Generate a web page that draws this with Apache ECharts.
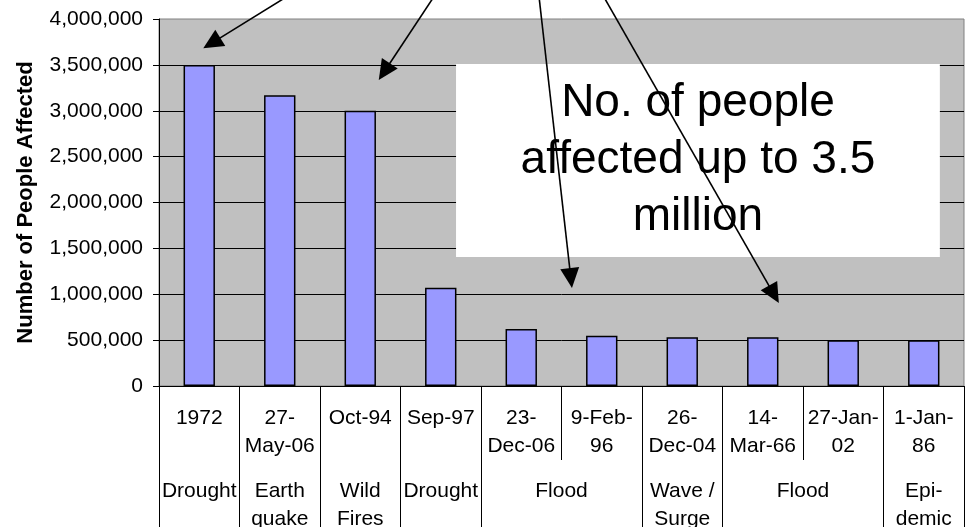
<!DOCTYPE html>
<html>
<head>
<meta charset="utf-8">
<script src="https://cdn.jsdelivr.net/npm/echarts@6/dist/echarts.min.js"></script>
<style>
  html, body { margin: 0; padding: 0; background: #ffffff; }
  #chart { width: 967px; height: 527px; }
</style>
</head>
<body>
<div id="chart"></div>
<script>
// Event dates (first row of the category axis)
const dates = ['1972', '27-\nMay-06', 'Oct-94', 'Sep-97', '23-\nDec-06', '9-Feb-\n96',
               '26-\nDec-04', '14-\nMar-66', '27-Jan-\n02', '1-Jan-\n86'];
// Number of people affected per event
const affected = [3500000, 3170000, 3000000, 1070000, 620000, 548000, 530000, 530000, 500000, 500000];
// Disaster types (second row); each spans a number of consecutive events
const groupNames = ['Drought', 'Earth\nquake', 'Wild\nFires', 'Drought', 'Flood', 'Wave /\nSurge', 'Flood', 'Epi-\ndemic'];
const groupSpans = [1, 1, 1, 1, 2, 1, 2, 1];
// Value axis ticks
const yMin = 0, yMax = 4000000, yStep = 500000;
// Callout text
const noteLines = ['No. of people', 'affected up to 3.5', 'million'];

// Callout geometry, expressed in axis units (event position 0..n, people)
const calloutLayout = {
  box: [[3.69, 3510000], [9.70, 1405000]],
  arrows: [
    { from: [1.60, 4250000], to: [0.55, 3680000] },
    { from: [3.42, 4250000], to: [2.73, 3335000] },
    { from: [4.72, 4250000], to: [5.13, 1068000] },
    { from: [5.52, 4250000], to: [7.70, 905000] }
  ]
};

const FONT = '"Liberation Sans", Arial, sans-serif';

// group boundaries and centres along the 0..n position scale
const bounds = [0];
groupSpans.forEach(s => bounds.push(bounds[bounds.length - 1] + s));
const centres = groupSpans.map((s, i) => bounds[i] + s / 2);

const chart = echarts.init(document.getElementById('chart'), null, { renderer: 'canvas' });

chart.setOption({
  animation: false,
  backgroundColor: '#ffffff',
  textStyle: { fontFamily: FONT },
  grid: {
    left: 159, top: 19, right: 3, bottom: 141,
    outerBoundsMode: 'none',
    containLabel: false,
    show: true, backgroundColor: '#c0c0c0', borderColor: '#808080', borderWidth: 1
  },
  xAxis: [
    {
      type: 'category',
      position: 'bottom',
      data: dates,
      boundaryGap: true,
      axisLine: { show: true, lineStyle: { color: '#000', width: 1 } },
      axisTick: { show: true, interval: 0, length: 74, lineStyle: { color: '#000', width: 1 } },
      axisLabel: { interval: 0, margin: 18, fontSize: 21, lineHeight: 28, color: '#000', fontFamily: FONT },
      splitLine: { show: false }
    },
    {
      type: 'value',
      position: 'bottom',
      min: 0,
      max: dates.length,
      axisLine: { show: false },
      splitLine: { show: false },
      axisTick: { show: true, customValues: bounds, length: 160, lineStyle: { color: '#000', width: 1 } },
      axisLabel: {
        show: true, customValues: centres, margin: 91, fontSize: 21, lineHeight: 28,
        color: '#000', fontFamily: FONT,
        formatter: v => {
          const i = centres.findIndex(c => Math.abs(c - v) < 1e-6);
          return i >= 0 ? groupNames[i] : '';
        }
      }
    }
  ],
  yAxis: {
    type: 'value',
    min: yMin, max: yMax, interval: yStep,
    name: 'Number of People Affected',
    nameLocation: 'middle',
    nameGap: 122,
    nameRotate: 90,
    nameTextStyle: { fontSize: 22, fontWeight: 'bold', color: '#000', fontFamily: FONT },
    axisLine: { show: true, lineStyle: { color: '#000', width: 1 } },
    axisTick: { show: true, inside: false, length: 6, lineStyle: { color: '#000', width: 1 } },
    axisLabel: {
      margin: 16, fontSize: 21, color: '#000', fontFamily: FONT,
      formatter: v => String(v).replace(/\B(?=(\d{3})+(?!\d))/g, ',')
    },
    splitLine: { show: true, showMaxLine: false, lineStyle: { color: '#000', width: 1 } }
  },
  series: [{
    type: 'bar',
    data: affected,
    barWidth: '39%',
    itemStyle: { color: '#9999ff', borderColor: '#000', borderWidth: 1.5 }
  }]
});

// Convert an (event position, people) pair to pixels
function toPx(p) {
  const x = chart.convertToPixel({ xAxisIndex: 1 }, p[0]);
  const y = chart.convertToPixel({ yAxisIndex: 0 }, p[1]);
  return [x, y];
}

const graphics = [];
const b0 = toPx(calloutLayout.box[0]);
const b1 = toPx(calloutLayout.box[1]);
graphics.push({
  type: 'rect', z: 10,
  shape: { x: b0[0], y: b0[1], width: b1[0] - b0[0], height: b1[1] - b0[1] },
  style: { fill: '#ffffff', stroke: null }
});
graphics.push({
  type: 'text', z: 11,
  x: (b0[0] + b1[0]) / 2, y: (b0[1] + b1[1]) / 2,
  style: {
    text: noteLines.join('\n'), fill: '#000',
    font: '46px ' + FONT, lineHeight: 57,
    align: 'center', verticalAlign: 'middle'
  }
});

const headLen = 20, headHalf = 9.5;
calloutLayout.arrows.forEach(a => {
  const t = toPx(a.from), h = toPx(a.to);
  const dx = h[0] - t[0], dy = h[1] - t[1];
  const len = Math.hypot(dx, dy);
  const ux = dx / len, uy = dy / len;
  const bx = h[0] - ux * headLen, by = h[1] - uy * headLen;
  graphics.push({
    type: 'line', z: 12,
    shape: { x1: t[0], y1: t[1], x2: bx + ux * 2, y2: by + uy * 2 },
    style: { stroke: '#000', lineWidth: 1.6 }
  });
  graphics.push({
    type: 'polygon', z: 12,
    shape: { points: [[h[0], h[1]], [bx - uy * headHalf, by + ux * headHalf], [bx + uy * headHalf, by - ux * headHalf]] },
    style: { fill: '#000', stroke: null }
  });
});

chart.setOption({ graphic: { elements: graphics } });
</script>
</body>
</html>
